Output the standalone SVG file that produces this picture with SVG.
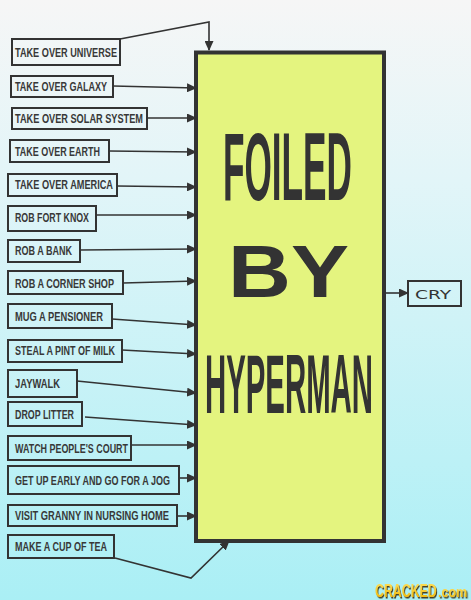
<svg xmlns="http://www.w3.org/2000/svg" width="471" height="600" viewBox="0 0 471 600">
<defs>
<linearGradient id="bg" x1="0" y1="0" x2="0" y2="1">
<stop offset="0" stop-color="#f6f6f6"/>
<stop offset="0.3" stop-color="#e2f5f8"/>
<stop offset="1" stop-color="#aaeff5"/>
</linearGradient>
<marker id="ah" markerUnits="userSpaceOnUse" markerWidth="10" markerHeight="9" refX="9" refY="4.5" orient="auto">
<path d="M0,0 L10,4.5 L0,9 z" fill="#333"/>
</marker>
<linearGradient id="logo" x1="0" y1="0" x2="0" y2="1">
<stop offset="0" stop-color="#ffe66a"/>
<stop offset="1" stop-color="#f0b400"/>
</linearGradient>
<filter id="shadow" x="-10%" y="-20%" width="130%" height="150%">
<feDropShadow dx="1.5" dy="1.5" stdDeviation="0.6" flood-color="#3a2e0c" flood-opacity="0.9"/>
</filter>
</defs>
<style>
.box{fill:none;stroke:#333;stroke-width:2}
.lbl{font-family:"Liberation Sans",Arial,sans-serif;font-size:12.5px;font-weight:bold;fill:#383838}
.con{fill:none;stroke:#333;stroke-width:1.6;marker-end:url(#ah)}
.big{font-family:"Liberation Sans",Arial,sans-serif;font-weight:bold;fill:#333}
.logo{font-family:"Liberation Sans",Arial,sans-serif;font-weight:bold;fill:url(#logo);filter:url(#shadow)}
</style>
<rect x="0" y="0" width="471" height="600" fill="url(#bg)"/>

<g id="main">
<rect x="196" y="52.5" width="188" height="488.5" fill="#e4f47f" stroke="#333" stroke-width="4"/>
<text class="big" transform="translate(223,200) scale(0.37,1)" x="0" y="0" font-size="96" textLength="348.6" lengthAdjust="spacingAndGlyphs">FOILED</text>
<text class="big" x="228" y="297" font-size="75" textLength="121" lengthAdjust="spacingAndGlyphs">BY</text>
<text class="big" transform="translate(205,413) scale(0.35,1)" x="0" y="0" font-size="84" textLength="480" lengthAdjust="spacingAndGlyphs">HYPERMAN</text>
</g>

<g id="n1"><rect class="box" x="12" y="39" width="108" height="26"/><text class="lbl" x="15" y="56.5" textLength="102" lengthAdjust="spacingAndGlyphs">TAKE OVER UNIVERSE</text></g>
<g id="n2"><rect class="box" x="11" y="76" width="102" height="21"/><text class="lbl" x="15" y="90.5" textLength="92" lengthAdjust="spacingAndGlyphs">TAKE OVER GALAXY</text></g>
<g id="n3"><rect class="box" x="12" y="108" width="135" height="21"/><text class="lbl" x="15" y="122.5" textLength="128" lengthAdjust="spacingAndGlyphs">TAKE OVER SOLAR SYSTEM</text></g>
<g id="n4"><rect class="box" x="10" y="140" width="99" height="22"/><text class="lbl" x="15" y="155.5" textLength="85" lengthAdjust="spacingAndGlyphs">TAKE OVER EARTH</text></g>
<g id="n5"><rect class="box" x="8" y="174" width="109" height="22"/><text class="lbl" x="15" y="189" textLength="98" lengthAdjust="spacingAndGlyphs">TAKE OVER AMERICA</text></g>
<g id="n6"><rect class="box" x="8" y="206" width="88" height="25"/><text class="lbl" x="15" y="222" textLength="74" lengthAdjust="spacingAndGlyphs">ROB FORT KNOX</text></g>
<g id="n7"><rect class="box" x="8" y="240" width="72" height="22"/><text class="lbl" x="15" y="254.5" textLength="57" lengthAdjust="spacingAndGlyphs">ROB A BANK</text></g>
<g id="n8"><rect class="box" x="8" y="271" width="115" height="23"/><text class="lbl" x="15" y="287.5" textLength="99" lengthAdjust="spacingAndGlyphs">ROB A CORNER SHOP</text></g>
<g id="n9"><rect class="box" x="8" y="304" width="104" height="24"/><text class="lbl" x="15" y="320.5" textLength="88" lengthAdjust="spacingAndGlyphs">MUG A PENSIONER</text></g>
<g id="n10"><rect class="box" x="8" y="340" width="114" height="22"/><text class="lbl" x="15" y="354.5" textLength="100" lengthAdjust="spacingAndGlyphs">STEAL A PINT OF MILK</text></g>
<g id="n11"><rect class="box" x="8" y="370" width="69" height="27"/><text class="lbl" x="15" y="387.5" textLength="45" lengthAdjust="spacingAndGlyphs">JAYWALK</text></g>
<g id="n12"><rect class="box" x="8" y="402" width="74" height="24"/><text class="lbl" x="15" y="418.5" textLength="59" lengthAdjust="spacingAndGlyphs">DROP LITTER</text></g>
<g id="n13"><rect class="box" x="8" y="436" width="123" height="24"/><text class="lbl" x="15" y="452.5" textLength="113" lengthAdjust="spacingAndGlyphs">WATCH PEOPLE'S COURT</text></g>
<g id="n14"><rect class="box" x="8" y="466" width="171" height="28"/><text class="lbl" x="15" y="484.5" textLength="155" lengthAdjust="spacingAndGlyphs">GET UP EARLY AND GO FOR A JOG</text></g>
<g id="n15"><rect class="box" x="8" y="505" width="169" height="21"/><text class="lbl" x="15" y="519.5" textLength="154" lengthAdjust="spacingAndGlyphs">VISIT GRANNY IN NURSING HOME</text></g>
<g id="n16"><rect class="box" x="8" y="535" width="106" height="23"/><text class="lbl" x="15" y="551" textLength="92" lengthAdjust="spacingAndGlyphs">MAKE A CUP OF TEA</text></g>

<g id="cry"><rect class="box" x="408" y="281" width="53" height="25"/><text x="415" y="299" font-family="'DejaVu Sans',sans-serif" font-size="12" fill="#333" textLength="36" lengthAdjust="spacingAndGlyphs">CRY</text></g>

<g id="connectors">
<polyline class="con" points="120,39 209,22 209,50"/>
<line class="con" x1="113" y1="86" x2="196" y2="88"/>
<line class="con" x1="147" y1="118" x2="196" y2="118"/>
<line class="con" x1="109" y1="151" x2="196" y2="152"/>
<line class="con" x1="117" y1="186" x2="196" y2="187"/>
<line class="con" x1="96" y1="215" x2="196" y2="215"/>
<line class="con" x1="80" y1="250" x2="196" y2="249"/>
<line class="con" x1="123" y1="283" x2="196" y2="281"/>
<line class="con" x1="112" y1="319" x2="196" y2="325"/>
<line class="con" x1="122" y1="350" x2="196" y2="354"/>
<line class="con" x1="77" y1="381" x2="196" y2="393"/>
<line class="con" x1="85" y1="417" x2="196" y2="425"/>
<line class="con" x1="131" y1="445" x2="196" y2="445"/>
<line class="con" x1="179" y1="478" x2="196" y2="478"/>
<line class="con" x1="177" y1="516" x2="196" y2="516"/>
<polyline class="con" points="115,558 191,578 229,541"/>
<line class="con" x1="386" y1="293" x2="408" y2="293"/>
</g>

<g id="logo">
<text class="logo" transform="translate(375,597) scale(0.65,1)" x="0" y="0" font-size="19" textLength="95" lengthAdjust="spacingAndGlyphs">CRACKED</text>
<text class="logo" transform="translate(438,597) scale(0.83,1)" x="0" y="0" font-size="15" textLength="35" lengthAdjust="spacingAndGlyphs">.com</text>
</g>
</svg>
